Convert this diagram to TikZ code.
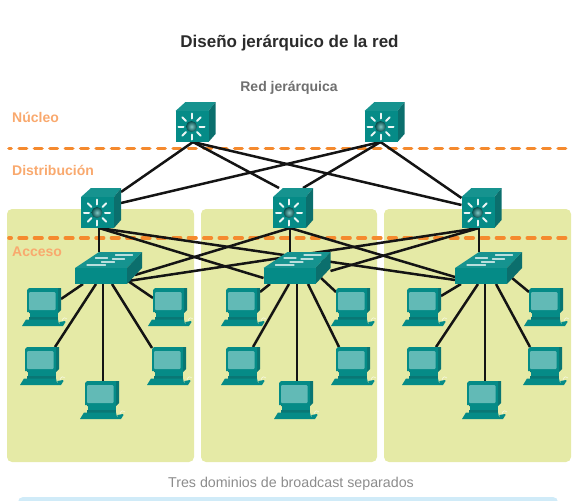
\documentclass[tikz,border=0pt]{standalone}
\usepackage{fontspec}
\setmainfont{Liberation Sans}
\definecolor{Panel}{HTML}{E5EAA6}
\definecolor{Band}{HTML}{F58A2E}
\definecolor{Tag}{HTML}{F9A96E}
\definecolor{Title}{HTML}{2B2B2B}
\definecolor{Muted}{HTML}{6F6F6F}
\definecolor{Note}{HTML}{8C8C8C}
\definecolor{Sky}{HTML}{D0EBF8}
\definecolor{TealFace}{HTML}{058B87}
\definecolor{TealTop}{HTML}{16938F}
\definecolor{TealSide}{HTML}{0B6F6D}
\definecolor{Screen}{HTML}{62BAB6}
\usetikzlibrary{arrows.meta,positioning,calc}
\tikzset{
  panel/.style={fill=Panel,rounded corners=5pt,minimum height=253pt,inner sep=0pt},
  tag/.style={anchor=west,inner sep=0pt,text=Tag,font=\fontsize{14}{16}\selectfont\bfseries},
  band/.style={draw=Band,line width=3.6pt,line cap=round,dash pattern=on 7.5pt off 7.9pt,dash phase=5.3pt},
  link/.style={draw=black!92,line width=2.5pt},
  lthreebox/.style={minimum width=40pt,minimum height=40pt,inner sep=0pt,outer sep=0pt},
  switchbox/.style={minimum width=67pt,minimum height=32pt,inner sep=0pt,outer sep=0pt},
  pcbox/.style={minimum width=34pt,minimum height=38pt,inner sep=0pt,outer sep=0pt},
  lthree/.pic={
    \fill[TealTop] (-20,-11) -- (-10,-20) -- (20,-20) -- (13,-11) -- cycle;
    \fill[TealSide] (13,-11) -- (20,-20) -- (20,12) -- (13,20) -- cycle;
    \fill[TealFace] (-20,-11) -- (13,-11) -- (13,20) -- (-20,20) -- cycle;
    \foreach \a in {0,45,...,315}
      \draw[white!92!TealFace,line width=2pt,line cap=round] (-4,4.5)+(\a:8) -- +(\a:13);
    \shade[inner color=Screen!80!white,outer color=TealSide!70!black] (-4,4.5) circle (5.5);
  },
  switchicon/.pic={
    \fill[TealTop] (-33.5,0) -- (-9.5,-16) -- (33.5,-16) -- (18.5,0) -- cycle;
    \fill[TealSide] (18.5,0) -- (33.5,-16) -- (33.5,0) -- (18.5,16) -- cycle;
    \fill[TealFace] (-33.5,0) -- (18.5,0) -- (18.5,16) -- (-33.5,16) -- cycle;
    \draw[white!70!TealTop,line width=1.2pt,line cap=round]
      (-21.5,-3) -- (-3,-3) (-7,-6) -- (6,-6) (-13,-10) -- (-1,-10) (7,-13) -- (24,-13) (4,-9) -- (16,-9);
  },
  pcicon/.pic={
    \fill[TealSide!80!TealFace] (-15,-16) -- (-13,-19) -- (17,-19) -- (17,3) -- (14,6) -- (-15,6) -- cycle;
    \fill[TealFace] (-17,-17) -- (-15,-19) -- (14,-19) -- (14,5) -- (-17,5) -- cycle;
    \fill[Screen,rounded corners=1pt] (-15,-15) rectangle (11.5,3);
    \fill[TealFace] (-14,5) rectangle (14,10);
    \fill[TealSide!70!TealFace] (-15,9.5) rectangle (14,14);
    \fill[TealFace] (-18,12.5) -- (14,12.5) -- (15,17) -- (15,19) -- (-22,19) -- cycle;
    \fill[TealFace] (15.5,15) -- (21,14) -- (21.5,15) -- (19,19) -- (15,19) -- cycle;
    \draw[white!65!Panel,line width=.6pt] (18,14) .. controls (19,10) and (22,10) .. (23,12);
  }
}
\begin{document}
\begin{tikzpicture}[x=1pt,y=-1pt]
\clip (0,0) rectangle (574,501);
\node[panel,minimum width=187pt] (dom1) at (100.5,335.5) {};
\node[panel,minimum width=176pt] (dom2) at (289,335.5) {};
\node[panel,minimum width=187pt] (dom3) at (477.5,335.5) {};
\node[fill=Sky,rounded corners=5pt,minimum width=540pt,minimum height=30pt,inner sep=0pt] (info) at (288,512) {};

\node[inner sep=0pt,text=Title,font=\fontsize{17}{20}\selectfont\bfseries] (title) at (289.5,43.5) {Diseño jerárquico de la red};
\node[inner sep=0pt,text=Muted,font=\fontsize{14}{16}\selectfont\bfseries] (red) at (289,87.5) {Red jerárquica};
\node[inner sep=0pt,text=Note,font=\fontsize{14.25}{16}\selectfont] (tres) at (291,483.5) {Tres dominios de broadcast separados};
\node[tag] (nucleo) at (12,117) {Núcleo};
\node[tag] (distrib) at (12,170.5) {Distribución};
\node[tag] (acceso) at (12,251.5) {Acceso};

\coordinate (bandA) at (9,148.5);
\coordinate (bandB) at (566.5,148.5);
\coordinate (bandC) at (9,238);
\coordinate (bandD) at (566.5,238);
\draw[band] (bandA) -- (bandB);
\draw[band] (bandC) -- (bandD);

\node[lthreebox] (core1) at (195.5,122) {};
\node[lthreebox] (core2) at (384.5,122) {};
\node[lthreebox] (dist1) at (101,208) {};
\node[lthreebox] (dist2) at (293,208) {};
\node[lthreebox] (dist3) at (481.5,208) {};
\node[switchbox] (sw1) at (108.5,268) {};
\node[switchbox] (sw2) at (297,268) {};
\node[switchbox] (sw3) at (488.5,268) {};
\foreach \n/\x/\y in {11/44/307,12/42/366,13/102/400,14/169/366,15/170/307,
  21/243/307,22/243/366,23/296/400,24/353/366,25/353/307,
  31/424/307,32/424/366,33/484/400,34/545/366,35/546/307}
  \node[pcbox] (pc\n) at (\x,\y) {};

\draw[link] ([xshift=-2.5pt]core1.south) -- ([yshift=16pt]dist1.east);
\draw[link] ([xshift=-2.5pt]core1.south) -- ([xshift=-14pt]dist2.north);
\draw[link] ([xshift=-2.5pt]core1.south) -- ([yshift=3pt]dist3.west);
\draw[link] ([xshift=-4pt]core2.south) -- ([yshift=5pt]dist1.east);
\draw[link] ([xshift=-4pt]core2.south) -- ([xshift=10pt]dist2.north);
\draw[link] ([xshift=-4pt]core2.south) -- ([yshift=10pt]dist3.west);

\draw[link] ([xshift=-2pt]dist1.south) -- ([xshift=-9.5pt]sw1.north);
\draw[link] ([xshift=-2pt]dist1.south) -- ([yshift=-10pt]sw2.west);
\draw[link] ([xshift=-2pt]dist1.south) -- ([yshift=-12pt]sw3.west);
\draw[link] ([xshift=-3pt]dist2.south) -- ([xshift=-7pt]sw2.north);
\draw[link] ([xshift=-3pt]dist2.south) -- ([xshift=-7pt,yshift=-7pt]sw1.east);
\draw[link] ([xshift=-3pt]dist2.south) -- ([yshift=-9pt]sw3.west);
\draw[link] ([xshift=-2.5pt]dist3.south) -- ([xshift=-9.5pt]sw3.north);
\draw[link] ([xshift=-2.5pt]dist3.south) -- ([yshift=-3pt]sw2.east);
\draw[link] ([xshift=-2.5pt]dist3.south) -- ([xshift=-14pt,yshift=3pt]sw1.south east);

\draw[link] ([xshift=-25.5pt]sw1.south) -- ([yshift=8pt]pc11.east);
\draw[link] ([xshift=-12.5pt]sw1.south) -- ([xshift=13pt]pc12.north);
\draw[link] ([xshift=-5.5pt]sw1.south) -- ([xshift=1pt]pc13.north);
\draw[link] ([xshift=3.5pt]sw1.south) -- ([yshift=18pt]pc14.west);
\draw[link] ([xshift=19.5pt,yshift=3pt]sw1.south) -- ([yshift=9pt]pc15.west);

\draw[link] ([xshift=-27pt]sw2.south) -- ([yshift=15pt]pc21.east);
\draw[link] ([xshift=-8pt]sw2.south) -- ([xshift=10pt]pc22.north);
\draw[link] (sw2.south) -- ([xshift=1pt]pc23.north);
\draw[link] ([xshift=11pt]sw2.south) -- ([xshift=-14pt]pc24.north);
\draw[link] ([xshift=24pt,yshift=6pt]sw2.south) -- ([yshift=15pt]pc25.west);

\draw[link] ([xshift=-27.5pt]sw3.south) -- ([yshift=11pt]pc31.east);
\draw[link] ([xshift=-10.5pt]sw3.south) -- ([xshift=12pt]pc32.north);
\draw[link] ([xshift=-3.5pt]sw3.south) -- ([xshift=1pt]pc33.north);
\draw[link] ([xshift=7.5pt]sw3.south) -- ([xshift=-15pt]pc34.north);
\draw[link] ([xshift=23.5pt,yshift=6pt]sw3.south) -- ([yshift=15pt]pc35.west);

\foreach \n in {core1,core2,dist1,dist2,dist3} \pic at (\n) {lthree};
\foreach \n in {sw1,sw2,sw3} \pic at (\n) {switchicon};
\foreach \n in {11,12,13,14,15,21,22,23,24,25,31,32,33,34,35} \pic at (pc\n) {pcicon};
\end{tikzpicture}
\end{document}
